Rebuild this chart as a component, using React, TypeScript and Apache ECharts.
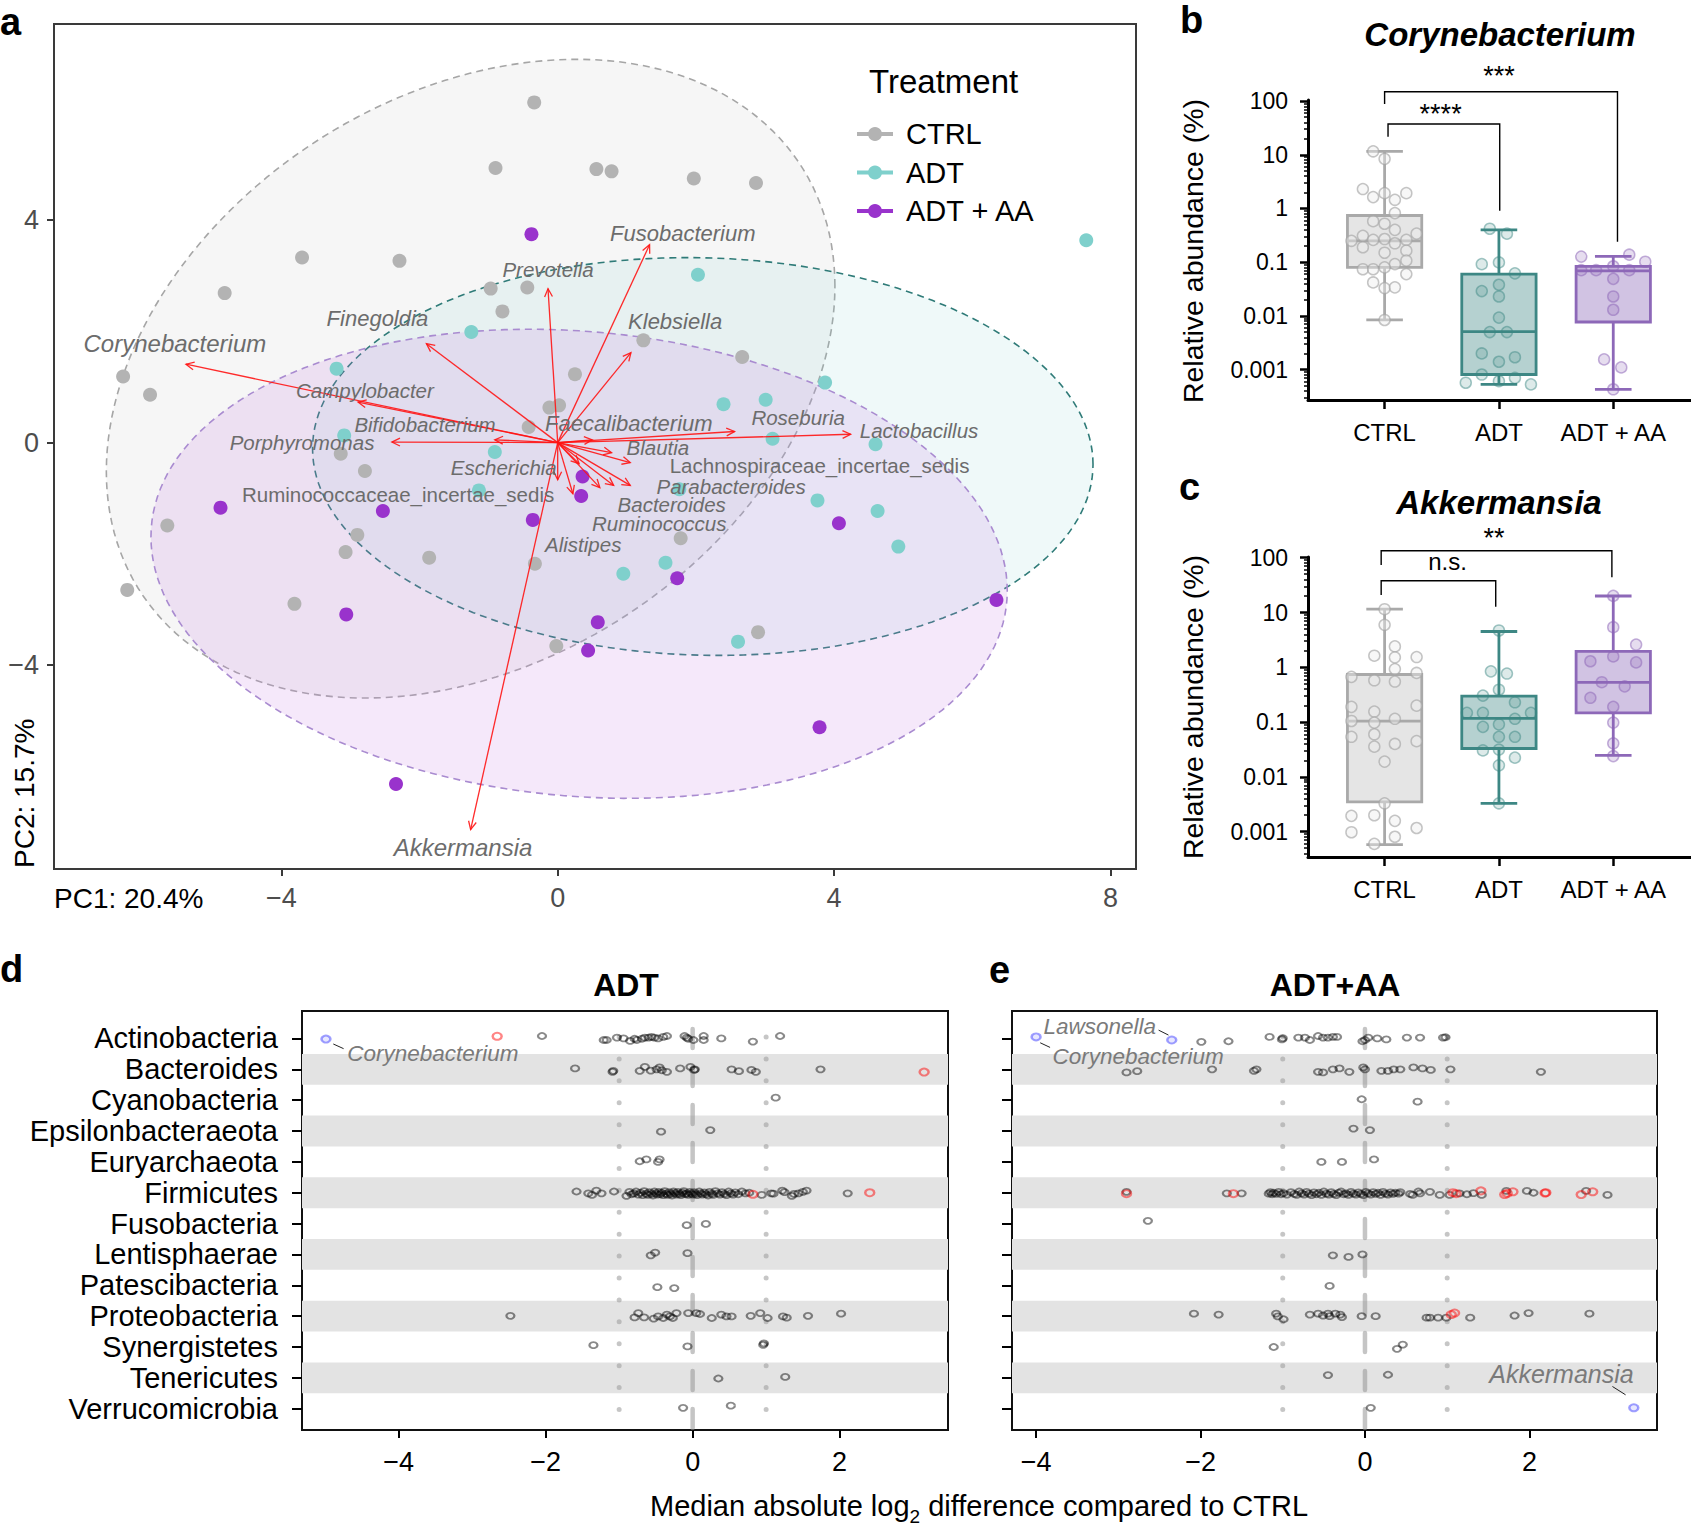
import React, { useEffect, useRef } from "react";
import * as echarts from "echarts";

const FONT = '"Liberation Sans", Arial, Helvetica, sans-serif';
const W = 1691;
const H = 1527;

// ---------------- Panel a : PCA biplot ----------------
const GROUPS = ["CTRL", "ADT", "ADT + AA"];
const GROUP_COLORS = ["#b3b3b3", "#7fd0cc", "#9933cc"];

const PCA_CTRL = [
  [-0.34, 6.12], [-0.9, 4.94], [0.56, 4.92], [0.78, 4.88], [1.97, 4.75], [2.87, 4.67],
  [-3.7, 3.33], [-2.29, 3.27], [-4.82, 2.69], [-0.97, 2.77], [-0.44, 2.79], [-0.8, 2.36],
  [1.24, 1.84], [2.67, 1.54], [0.25, 1.23], [-6.29, 1.19], [-5.9, 0.86], [-0.12, 0.63],
  [0.02, 0.67], [-0.42, 0.28], [-3.14, -0.2], [-2.79, -0.51], [-5.65, -1.49], [-2.9, -1.66],
  [-3.07, -1.97], [-1.86, -2.07], [-0.33, -2.18], [-6.23, -2.65], [-3.81, -2.9], [-0.02, -3.66],
  [2.9, -3.41], [1.78, -1.72],
];
const PCA_ADT = [
  [7.65, 3.64], [2.03, 3.02], [-1.25, 1.99], [-3.2, 1.33], [3.87, 1.08], [3.01, 0.77],
  [2.4, 0.69], [-3.09, 0.13], [-0.91, -0.17], [3.11, 0.07], [4.6, -0.03], [-1.14, -0.86],
  [1.76, -0.84], [3.76, -1.04], [4.63, -1.23], [4.93, -1.87], [1.56, -2.16], [0.95, -2.36],
  [2.61, -3.58],
];
const PCA_AA = [
  [-0.38, 3.75], [0.36, -0.61], [0.34, -0.96], [-4.88, -1.17], [-2.53, -1.23], [-0.36, -1.39],
  [4.07, -1.45], [1.73, -2.44], [-3.06, -3.09], [0.58, -3.23], [0.44, -3.74], [6.35, -2.83],
  [3.79, -5.12], [-2.34, -6.14],
];
const PCA_POINTS = [PCA_CTRL, PCA_ADT, PCA_AA];

// 95% ellipses: centre and covariance (sxx, sxy, syy) in PC units
const ELLIPSE_CENTER = [[-1.26, 1.15], [2.1, -0.25], [0.31, -2.18]];
const ELLIPSE_COV = [[27.8, 8.8, 33.0], [31.9, -0.8, 12.8], [38.4, -3.0, 17.8]];
const ELLIPSE_FILL = ["rgba(190,190,190,0.14)", "rgba(125,207,203,0.12)", "rgba(200,130,230,0.18)"];
const ELLIPSE_STROKE = ["#a6a6a6", "#2f7b78", "#a98bd0"];

const GENERA = [
  "Corynebacterium", "Finegoldia", "Prevotella", "Fusobacterium", "Klebsiella",
  "Campylobacter", "Bifidobacterium", "Porphyromonas", "Faecalibacterium", "Roseburia",
  "Lactobacillus", "Blautia", "Lachnospiraceae_incertae_sedis", "Escherichia", "Alistipes",
  "Bacteroides", "Parabacteroides", "Ruminococcus", "Ruminococcaceae_incertae_sedis", "Akkermansia",
];
const LOAD_X = [-5.38, -1.9, -0.14, 1.33, 1.06, -2.89, -0.91, -2.4, 0.5, 2.56, 4.24, 0.78, 1.05, 0.0, 0.22, 0.61, 1.05, 0.81, 0.31, -1.26];
const LOAD_Y = [1.41, 1.78, 2.77, 3.56, 1.62, 0.73, 0.05, 0.01, 0.05, 0.2, 0.15, -0.18, -0.36, -0.67, -0.92, -0.81, -0.77, -0.77, -0.38, -6.96];
const LABEL_X = [-5.54, -2.61, -0.14, 1.81, 1.7, -2.79, -1.92, -3.7, 1.03, 3.48, 5.23, 1.45, 3.79, -0.78, 0.37, 1.65, 2.51, 1.47, -2.31, -1.37];
const LABEL_Y = [1.78, 2.24, 3.12, 3.76, 2.18, 0.94, 0.32, 0.01, 0.34, 0.46, 0.22, -0.09, -0.42, -0.44, -1.83, -1.12, -0.79, -1.45, -0.94, -7.29];
const BIG_LABELS = ["Corynebacterium", "Akkermansia"];
const MID_LABELS = ["Fusobacterium", "Finegoldia", "Klebsiella", "Faecalibacterium"];

const A_X_TICKS = [-4, 0, 4, 8];
const A_Y_TICKS = [-4, 0, 4];

// ---------------- Panels b, c : box plots (relative abundance, %) ----------------
const Y_TICKS_LOG = [0.001, 0.01, 0.1, 1, 10, 100];
const Y_TICK_LABELS = ["0.001", "0.01", "0.1", "1", "10", "100"];

// [min, q1, median, q3, max]
const CORY_BOX = [
  [0.0084, 0.08, 0.25, 0.74, 11.6],
  [0.00053, 0.00081, 0.0051, 0.06, 0.4],
  [0.00043, 0.0077, 0.069, 0.0836, 0.128],
];
const AKK_BOX = [
  [0.00058, 0.0035, 0.104, 0.74, 11.5],
  [0.0033, 0.033, 0.117, 0.297, 4.5],
  [0.0248, 0.148, 0.53, 1.95, 20],
];
// [jitter (category units), value %]
const CORY_CTRL = [
  [-0.1, 11.6], [0, 8.4], [-0.19, 2.3], [-0.1, 1.63], [0, 1.93], [0.09, 1.45], [0.19, 1.93],
  [0.09, 0.82], [-0.1, 0.58], [0, 0.52], [0.09, 0.4], [0.28, 0.34], [-0.29, 0.25], [-0.19, 0.31],
  [-0.1, 0.26], [0, 0.27], [0.09, 0.225], [0.19, 0.26], [-0.19, 0.19], [0, 0.15], [0.19, 0.164],
  [0.09, 0.092], [0.19, 0.107], [-0.19, 0.074], [-0.1, 0.074], [0, 0.08], [0.19, 0.06],
  [-0.1, 0.042], [0, 0.033], [0.09, 0.034], [0, 0.0084],
];
const CORY_ADT = [
  [-0.08, 0.42], [0.07, 0.34], [-0.15, 0.092], [0, 0.099], [0.14, 0.062], [-0.15, 0.029],
  [0, 0.038], [0, 0.023], [0, 0.0093], [-0.08, 0.005], [0.07, 0.005], [-0.15, 0.002],
  [0.14, 0.0017], [0, 0.0014], [-0.15, 0.00081], [0.14, 0.0007], [-0.29, 0.00057],
  [0, 0.00061], [0.28, 0.00053],
];
const CORY_AA = [
  [-0.28, 0.127], [0.14, 0.138], [0.28, 0.102], [-0.28, 0.071], [-0.15, 0.071], [0, 0.084],
  [0.14, 0.071], [0, 0.049], [0, 0.023], [0, 0.013], [-0.08, 0.00155], [0.07, 0.0011], [0, 0.00043],
];
const AKK_CTRL = [
  [0, 11.5], [0, 5.97], [0.09, 2.41], [-0.09, 1.63], [0.09, 1.52], [0.28, 1.54], [0.09, 0.93],
  [0.28, 0.79], [-0.29, 0.67], [-0.09, 0.58], [0.09, 0.55], [-0.29, 0.19], [-0.09, 0.156],
  [0.28, 0.2], [-0.29, 0.105], [-0.09, 0.098], [0.09, 0.115], [-0.29, 0.054], [-0.09, 0.06],
  [-0.09, 0.0357], [0.09, 0.04], [0.28, 0.045], [0, 0.019], [0, 0.0033], [-0.29, 0.00195],
  [-0.09, 0.002], [0.09, 0.00158], [0.28, 0.00117], [-0.29, 0.00098], [0.09, 0.00081], [-0.09, 0.0006],
];
const AKK_ADT = [
  [0, 4.7], [-0.07, 0.845], [0.07, 0.77], [0, 0.39], [-0.14, 0.305], [0.14, 0.23], [-0.28, 0.148],
  [-0.14, 0.148], [0.14, 0.115], [0.28, 0.148], [-0.14, 0.082], [0, 0.091], [0.14, 0.054],
  [0, 0.054], [-0.14, 0.0305], [0, 0.0316], [0.14, 0.0225], [0, 0.0163], [0, 0.0033],
];
const AKK_AA = [
  [0, 20.1], [0, 5.4], [0.2, 2.6], [0, 1.58], [-0.2, 1.29], [0.2, 1.23], [-0.1, 0.535],
  [0.1, 0.45], [-0.2, 0.278], [0, 0.19], [0, 0.098], [0, 0.041], [0, 0.024],
];
// significance brackets: [x1, x2, yTop, yLeftEnd, yRightEnd] in (category, log10 %)
const CORY_BRACKETS = [[1, 3.037, 2.175, 1.945, -0.619], [1.03, 2.007, 1.573, 1.337, -0.041]];
const CORY_SIG = ["***", "****"];
const CORY_SIG_POS = [[2.0, 2.467], [1.49, 1.759]];
const AKK_BRACKETS = [[0.97, 2.988, 2.128, 1.867, 1.643], [0.97, 1.972, 1.581, 1.32, 1.106]];
const AKK_SIG = ["**", "n.s."];
const AKK_SIG_POS = [[1.957, 2.36], [1.55, 1.922]];

const BOX_STROKE = ["#a9a9a9", "#3d8784", "#8d68b8"];
const BOX_FILL = ["rgba(169,169,169,0.3)", "rgba(61,135,132,0.38)", "rgba(141,104,184,0.4)"];
const PT_FILL = ["rgba(236,236,236,0.55)", "rgba(61,135,132,0.22)", "rgba(141,104,184,0.28)"];
const PT_STROKE = ["rgba(165,165,165,0.8)", "rgba(61,135,132,0.6)", "rgba(141,104,184,0.65)"];

// ---------------- Panels d, e : log2 differences per phylum ----------------
const PHYLA = [
  "Actinobacteria", "Bacteroides", "Cyanobacteria", "Epsilonbacteraeota", "Euryarchaeota",
  "Firmicutes", "Fusobacteria", "Lentisphaerae", "Patescibacteria", "Proteobacteria",
  "Synergistetes", "Tenericutes", "Verrucomicrobia",
];
const X_TICKS_DE = [-4, -2, 0, 2];
const REF_LINES = [-1, 0, 1];

// [log2 difference, vertical jitter (rows)]
const ADT_ROWS = [
  [[-2.05, -0.08], [-1.21, 0.05], [-1.17, 0.05], [-1.03, -0.03], [-0.94, 0.0], [-0.85, 0.08], [-0.79, 0.01], [-0.76, 0.05], [-0.69, 0.01], [-0.65, -0.03], [-0.6, -0.03], [-0.56, -0.05], [-0.52, -0.03], [-0.47, 0.0], [-0.4, -0.05], [-0.35, -0.08], [-0.11, -0.08], [-0.08, -0.03], [-0.06, 0.01], [0.01, 0.05], [0.15, -0.08], [0.15, 0.05], [0.39, 0.0], [0.82, 0.1], [1.19, -0.08]],
  [[-1.6, -0.03], [-1.09, 0.08], [-1.08, 0.05], [-0.72, 0.05], [-0.65, -0.08], [-0.57, 0.04], [-0.49, 0.0], [-0.45, -0.06], [-0.42, 0.03], [-0.35, 0.08], [-0.17, -0.03], [-0.03, -0.08], [0.03, 0.0], [0.02, 0.02], [0.53, 0.0], [0.63, 0.06], [0.8, 0.02], [0.86, 0.08], [1.74, 0.0]],
  [[1.13, -0.08]],
  [[-0.43, 0.02], [0.24, -0.03]],
  [[-0.72, -0.02], [-0.63, -0.08], [-0.47, 0.0], [-0.45, -0.08]],
  [[-1.58, -0.04], [-1.42, 0.02], [-1.37, 0.07], [-1.31, -0.07], [-1.24, 0.02], [-1.07, -0.04], [-0.9, 0.1], [-0.86, -0.03], [-0.83, 0.05], [-0.8, 0.02], [-0.77, -0.04], [-0.74, 0.06], [-0.71, 0.0], [-0.68, 0.08], [-0.66, -0.05], [-0.63, 0.03], [-0.61, 0.07], [-0.59, -0.02], [-0.56, 0.04], [-0.54, 0.09], [-0.52, -0.04], [-0.5, 0.02], [-0.48, 0.06], [-0.46, -0.03], [-0.44, 0.05], [-0.42, 0.0], [-0.4, 0.08], [-0.38, -0.05], [-0.36, 0.03], [-0.34, 0.07], [-0.32, -0.02], [-0.3, 0.04], [-0.28, 0.09], [-0.26, -0.04], [-0.24, 0.01], [-0.22, 0.06], [-0.2, -0.03], [-0.18, 0.04], [-0.16, 0.08], [-0.14, 0.0], [-0.12, -0.05], [-0.1, 0.05], [-0.08, 0.02], [-0.06, 0.07], [-0.04, -0.03], [-0.02, 0.03], [0.0, 0.06], [0.02, -0.02], [0.04, 0.04], [0.06, 0.08], [0.09, -0.04], [0.11, 0.02], [0.13, 0.06], [0.16, -0.01], [0.18, 0.05], [0.21, 0.09], [0.23, -0.03], [0.26, 0.03], [0.28, 0.07], [0.31, -0.05], [0.34, 0.02], [0.37, 0.06], [0.4, -0.02], [0.43, 0.04], [0.46, 0.08], [0.49, -0.04], [0.52, 0.02], [0.55, 0.06], [0.58, -0.01], [0.62, 0.05], [0.67, -0.04], [0.72, 0.02], [0.77, 0.0], [0.94, 0.07], [1.07, 0.02], [1.1, 0.03], [1.22, -0.07], [1.25, -0.02], [1.35, 0.1], [1.38, 0.04], [1.44, 0.02], [1.5, -0.03], [1.55, -0.07], [2.11, 0.02]],
  [[-0.08, 0.05], [0.18, 0.01]],
  [[-0.57, 0.03], [-0.51, -0.06], [-0.07, -0.04]],
  [[-0.48, 0.06], [-0.25, 0.09]],
  [[-2.48, -0.01], [-0.79, 0.04], [-0.74, -0.1], [-0.66, 0.04], [-0.53, 0.08], [-0.47, 0.01], [-0.4, 0.06], [-0.35, -0.05], [-0.31, 0.01], [-0.27, 0.06], [-0.22, -0.1], [-0.06, -0.1], [0.05, -0.1], [0.1, -0.07], [0.26, 0.06], [0.39, -0.05], [0.46, 0.01], [0.53, 0.01], [0.79, -0.01], [0.92, -0.1], [1.02, 0.06], [1.23, 0.01], [1.28, 0.05], [1.57, -0.01], [2.02, -0.08]],
  [[-1.35, -0.06], [-0.07, -0.02], [0.96, -0.07], [0.97, -0.12]],
  [[0.35, 0.02], [1.26, -0.03]],
  [[-0.13, -0.03], [0.52, -0.1]],
];
// [log2 difference, row, jitter]
const ADT_RED = [[-2.66, 0, -0.07], [3.15, 1, 0.09], [0.82, 5, 0.05], [2.41, 5, 0.0]];
const ADT_BLUE = [[-4.99, 0, 0.02]];

const AA_ROWS = [
  [[-1.99, 0.11], [-1.66, 0.09], [-1.16, -0.05], [-1.01, 0.03], [-1.0, -0.01], [-0.81, -0.03], [-0.73, -0.03], [-0.67, 0.05], [-0.57, -0.08], [-0.51, -0.03], [-0.45, -0.03], [-0.39, -0.05], [-0.34, -0.05], [-0.03, 0.09], [0.0, 0.05], [0.04, -0.03], [0.15, 0.0], [0.26, 0.03], [0.51, -0.03], [0.67, -0.03], [0.95, -0.03], [0.98, -0.04]],
  [[-2.9, 0.1], [-2.77, 0.06], [-1.86, 0.0], [-1.35, 0.05], [-1.32, 0.0], [-0.57, 0.08], [-0.51, 0.1], [-0.39, 0.0], [-0.31, -0.03], [-0.19, 0.08], [-0.02, -0.06], [0.0, 0.0], [0.2, 0.05], [0.28, 0.05], [0.35, 0.0], [0.43, 0.0], [0.59, -0.06], [0.7, -0.03], [0.8, 0.02], [1.04, 0.0], [2.14, 0.08]],
  [[-0.04, -0.03], [0.64, 0.05]],
  [[-0.14, -0.08], [0.06, -0.03]],
  [[-0.53, 0.0], [-0.28, 0.0], [0.11, -0.08]],
  [[-2.9, -0.03], [-1.68, 0.02], [-1.5, 0.02], [-1.17, 0.03], [-1.15, -0.02], [-1.13, 0.05], [-1.11, 0.0], [-1.08, 0.04], [-1.05, -0.03], [-1.02, 0.05], [-0.99, 0.01], [-0.95, 0.06], [-0.9, -0.02], [-0.86, 0.04], [-0.83, 0.07], [-0.8, -0.04], [-0.77, 0.02], [-0.74, 0.06], [-0.71, -0.03], [-0.68, 0.03], [-0.65, 0.08], [-0.62, -0.01], [-0.59, 0.05], [-0.56, 0.0], [-0.53, 0.07], [-0.5, -0.04], [-0.47, 0.03], [-0.44, 0.06], [-0.41, -0.02], [-0.38, 0.04], [-0.35, 0.08], [-0.32, 0.0], [-0.29, -0.04], [-0.26, 0.05], [-0.23, 0.02], [-0.2, 0.07], [-0.17, -0.03], [-0.14, 0.03], [-0.11, 0.06], [-0.08, -0.01], [-0.05, 0.04], [-0.02, 0.08], [0.01, -0.03], [0.04, 0.02], [0.07, 0.06], [0.1, -0.02], [0.13, 0.04], [0.16, 0.0], [0.19, 0.07], [0.22, -0.03], [0.25, 0.03], [0.28, 0.06], [0.31, -0.01], [0.34, 0.04], [0.37, 0.0], [0.41, 0.03], [0.43, -0.02], [0.55, 0.04], [0.58, 0.07], [0.65, -0.04], [0.67, 0.02], [0.79, -0.03], [0.91, 0.07], [1.03, 0.07], [1.15, 0.02], [1.24, 0.05], [1.32, 0.01], [1.42, 0.07], [1.72, -0.06], [1.97, -0.06], [2.05, 0.0], [2.69, -0.06], [2.95, 0.07]],
  [[-2.64, -0.09]],
  [[-0.39, 0.03], [-0.2, 0.08], [-0.03, 0.0]],
  [[-0.43, 0.02]],
  [[-2.08, -0.08], [-1.78, -0.05], [-1.08, -0.08], [-1.06, 0.01], [-0.99, 0.1], [-0.67, -0.05], [-0.57, -0.08], [-0.51, -0.02], [-0.45, -0.08], [-0.43, 0.0], [-0.36, -0.08], [-0.3, -0.05], [-0.28, 0.03], [-0.04, 0.0], [0.13, 0.0], [0.75, 0.05], [0.79, 0.05], [0.89, 0.05], [0.99, 0.05], [1.28, 0.05], [1.82, -0.02], [1.99, -0.1], [2.73, -0.08]],
  [[-1.11, 0.0], [0.39, 0.06], [0.46, -0.08]],
  [[-0.45, -0.09], [0.28, -0.1]],
  [[0.07, -0.03]],
];
const AA_RED = [[-2.9, 5, 0.03], [-1.6, 5, 0.03], [1.07, 5, 0.0], [1.11, 5, 0.03], [1.41, 5, -0.06], [1.7, 5, 0.06], [1.73, 5, 0.02], [1.8, 5, -0.03], [2.19, 5, 0.01], [2.2, 5, 0.0], [2.63, 5, 0.06], [2.77, 5, -0.03], [1.05, 9, -0.05], [1.09, 9, -0.1]];
const AA_BLUE = [[-4.0, 0, -0.05], [-2.35, 0, 0.05], [3.27, 12, -0.03]];

// annotated genera in d / e : text, anchor (log2 diff, row), alignment, leader line
const ADT_NOTES = ["Corynebacterium"];
const ADT_NOTE_POS = [[-4.7, 0.48]];
const ADT_NOTE_ALIGN = ["left"];
const ADT_LEADERS = [[-4.89, 0.18, -4.75, 0.33]];
const AA_NOTES = ["Lawsonella", "Corynebacterium", "Akkermansia"];
const AA_NOTE_POS = [[-2.54, -0.4], [-3.8, 0.57], [2.39, 10.88]];
const AA_NOTE_ALIGN = ["right", "left", "center"];
const AA_LEADERS = [[-2.51, -0.27, -2.39, -0.11], [-3.95, 0.14, -3.83, 0.29], [3.01, 11.28, 3.17, 11.55]];

// ----------------------------------------------------------------
const fmtMinus = (v) => (v < 0 ? "\u2212" + Math.abs(v) : String(v));

function txt(x, y, text, o: any = {}) {
  return {
    type: "text",
    x,
    y,
    rotation: o.rotation || 0,
    silent: true,
    z: 100,
    style: {
      text,
      fontSize: o.size || 20,
      fontFamily: FONT,
      fontWeight: o.weight || "normal",
      fontStyle: o.italic ? "italic" : "normal",
      fill: o.color || "#000",
      align: o.align || "left",
      verticalAlign: o.va || "middle",
      textAlign: o.align || "left",
      textVerticalAlign: o.va || "middle",
      rich: o.rich,
    },
  };
}

function buildOption() {
  const grids = [
    { left: 54, top: 24, width: 1082, height: 845, show: true, borderColor: "#3a3a3a", borderWidth: 2, backgroundColor: "transparent" },
    { left: 1308, top: 100, width: 383, height: 300 },
    { left: 1308, top: 557, width: 383, height: 300 },
    { left: 302, top: 1011, width: 646, height: 419, show: true, borderColor: "#111", borderWidth: 2, backgroundColor: "transparent" },
    { left: 1012, top: 1011, width: 645, height: 419, show: true, borderColor: "#111", borderWidth: 2, backgroundColor: "transparent" },
  ];

  const logTickFmt = (v) => {
    const i = Y_TICKS_LOG.findIndex((t) => Math.abs(Math.log10(t) - v) < 1e-6);
    return i >= 0 ? Y_TICK_LABELS[i] : "";
  };
  const majorLog = Y_TICKS_LOG.map((t) => Math.log10(t));
  const minorLog = (lo, hi) => {
    const out = [];
    for (let d = -5; d <= 2; d++) for (let k = 2; k <= 9; k++) {
      const v = d + Math.log10(k);
      if (v > lo && v < hi) out.push(v);
    }
    return out;
  };

  const catAxis = (gi) => ({
    gridIndex: gi, type: "value", min: 0.33, max: 3.68,
    axisLine: { show: true, onZero: false, lineStyle: { color: "#000", width: 3 } },
    axisTick: { show: true, customValues: [1, 2, 3], length: 9, lineStyle: { color: "#000", width: 2.5 } },
    axisLabel: { show: true, customValues: [1, 2, 3], formatter: (v) => GROUPS[Math.round(v) - 1], fontSize: 24, color: "#000", margin: 20, fontFamily: FONT },
    splitLine: { show: false },
  });
  const logAxisMajor = (gi, lo, hi) => ({
    gridIndex: gi, type: "value", min: lo, max: hi, position: "left",
    axisLine: { show: true, onZero: false, lineStyle: { color: "#000", width: 3 } },
    axisTick: { show: true, customValues: majorLog, length: 8, lineStyle: { color: "#000", width: 2.5 } },
    axisLabel: { show: true, customValues: majorLog, formatter: logTickFmt, fontSize: 23, color: "#000", margin: 20, fontFamily: FONT },
    splitLine: { show: false },
  });
  const logAxisMinor = (gi, lo, hi) => ({
    gridIndex: gi, type: "value", min: lo, max: hi, position: "left", offset: 0,
    axisLine: { show: false, onZero: false },
    axisTick: { show: true, customValues: minorLog(lo, hi), length: 4, lineStyle: { color: "#000", width: 1.5 } },
    axisLabel: { show: false },
    splitLine: { show: false },
  });

  const xAxes = [
    {
      gridIndex: 0, type: "value", min: -7.29, max: 8.37,
      axisLine: { show: false, onZero: false },
      axisTick: { show: true, customValues: A_X_TICKS, length: 7, lineStyle: { color: "#3a3a3a", width: 2 } },
      axisLabel: { customValues: A_X_TICKS, formatter: fmtMinus, fontSize: 27, color: "#4d4d4d", margin: 15, fontFamily: FONT },
      splitLine: { show: false },
    },
    catAxis(1),
    catAxis(2),
    {
      gridIndex: 3, type: "value", min: -5.316, max: 3.475,
      axisLine: { show: false, onZero: false },
      axisTick: { show: true, customValues: X_TICKS_DE, length: 8, lineStyle: { color: "#000", width: 2 } },
      axisLabel: { customValues: X_TICKS_DE, formatter: fmtMinus, fontSize: 27, color: "#000", margin: 18, fontFamily: FONT },
      splitLine: { show: false },
    },
    {
      gridIndex: 4, type: "value", min: -4.293, max: 3.552,
      axisLine: { show: false, onZero: false },
      axisTick: { show: true, customValues: X_TICKS_DE, length: 8, lineStyle: { color: "#000", width: 2 } },
      axisLabel: { customValues: X_TICKS_DE, formatter: fmtMinus, fontSize: 27, color: "#000", margin: 18, fontFamily: FONT },
      splitLine: { show: false },
    },
  ];

  const rowIdx = PHYLA.map((_, i) => i);
  const yAxes = [
    {
      gridIndex: 0, type: "value", min: -7.67, max: 7.53,
      axisLine: { show: false, onZero: false },
      axisTick: { show: true, customValues: A_Y_TICKS, length: 7, lineStyle: { color: "#3a3a3a", width: 2 } },
      axisLabel: { customValues: A_Y_TICKS, formatter: fmtMinus, fontSize: 27, color: "#4d4d4d", margin: 15, fontFamily: FONT },
      splitLine: { show: false },
    },
    logAxisMajor(1, -3.566, 2.02),
    logAxisMinor(1, -3.566, 2.02),
    logAxisMajor(2, -3.461, 2.013),
    logAxisMinor(2, -3.461, 2.013),
    {
      gridIndex: 3, type: "value", min: -0.89, max: 12.69, inverse: true,
      axisLine: { show: false, onZero: false },
      axisTick: { show: true, customValues: rowIdx, length: 10, lineStyle: { color: "#000", width: 2 } },
      axisLabel: { customValues: rowIdx, formatter: (v) => PHYLA[Math.round(v)], fontSize: 29, color: "#000", margin: 24, fontFamily: FONT },
      splitLine: { show: false },
    },
    {
      gridIndex: 4, type: "value", min: -0.89, max: 12.69, inverse: true,
      axisLine: { show: false, onZero: false },
      axisTick: { show: true, customValues: rowIdx, length: 10, lineStyle: { color: "#000", width: 2 } },
      axisLabel: { show: false },
      splitLine: { show: false },
    },
  ];

  const series: any[] = [];

  // ---- panel a ----
  series.push({
    type: "custom", xAxisIndex: 0, yAxisIndex: 0, z: 1, silent: true,
    data: ELLIPSE_CENTER.map((c) => [c[0], c[1]]),
    renderItem: (params, api) => {
      const i = params.dataIndex;
      const cx = api.value(0);
      const cy = api.value(1);
      const [sxx, sxy, syy] = ELLIPSE_COV[i];
      const l11 = Math.sqrt(sxx);
      const l21 = sxy / l11;
      const l22 = Math.sqrt(syy - l21 * l21);
      const pts = [];
      for (let k = 0; k < 180; k++) {
        const t = (2 * Math.PI * k) / 180;
        pts.push(api.coord([cx + l11 * Math.cos(t), cy + l21 * Math.cos(t) + l22 * Math.sin(t)]));
      }
      return { type: "polygon", shape: { points: pts }, style: { fill: ELLIPSE_FILL[i], stroke: ELLIPSE_STROKE[i], lineWidth: 1.6, lineDash: [7, 5] } };
    },
  });
  PCA_POINTS.forEach((pts, g) => {
    series.push({
      type: "scatter", name: GROUPS[g], xAxisIndex: 0, yAxisIndex: 0, z: 2, silent: true,
      data: pts, symbol: "circle", symbolSize: 14,
      itemStyle: { color: GROUP_COLORS[g], opacity: 1 },
    });
  });
  const ARROW = "rgba(255,20,20,0.9)";
  series.push({
    type: "custom", xAxisIndex: 0, yAxisIndex: 0, z: 4, silent: true,
    data: LOAD_X.map((x, i) => [x, LOAD_Y[i]]),
    renderItem: (params, api) => {
      const p0 = api.coord([0, 0]);
      const p1 = api.coord([api.value(0), api.value(1)]);
      const ang = Math.atan2(p1[1] - p0[1], p1[0] - p0[0]);
      const L = 9;
      const A = 0.45;
      const h1 = [p1[0] - L * Math.cos(ang - A), p1[1] - L * Math.sin(ang - A)];
      const h2 = [p1[0] - L * Math.cos(ang + A), p1[1] - L * Math.sin(ang + A)];
      return {
        type: "group",
        children: [
          { type: "line", shape: { x1: p0[0], y1: p0[1], x2: p1[0], y2: p1[1] }, style: { stroke: ARROW, lineWidth: 1.3 } },
          { type: "polyline", shape: { points: [h1, p1, h2] }, style: { stroke: ARROW, lineWidth: 1.3, fill: "none" } },
        ],
      };
    },
  });
  series.push({
    type: "custom", xAxisIndex: 0, yAxisIndex: 0, z: 5, silent: true,
    data: LABEL_X.map((x, i) => [x, LABEL_Y[i]]),
    renderItem: (params, api) => {
      const name = GENERA[params.dataIndex];
      const p = api.coord([api.value(0), api.value(1)]);
      const size = BIG_LABELS.includes(name) ? 24 : MID_LABELS.includes(name) ? 22 : 20.5;
      return {
        type: "text", x: p[0], y: p[1],
        style: {
          text: name, fontSize: size, fontFamily: FONT,
          fontStyle: name.includes("incertae") ? "normal" : "italic",
          fill: "#6c6c6c", align: "center", verticalAlign: "middle",
        },
      };
    },
  });

  // ---- panels b, c ----
  const BOX_HALF = 0.325;
  const CAP_HALF = 0.16;
  const boxPanel = (xi, yi, boxes, groups, brackets, sig, sigPos) => {
    series.push({
      type: "custom", xAxisIndex: xi, yAxisIndex: yi, z: 2, silent: true,
      data: boxes.map((b, i) => [i + 1, ...b.map((v) => Math.log10(v))]),
      encode: { x: 0, y: [1, 2, 3, 4, 5] },
      renderItem: (params, api) => {
        const i = params.dataIndex;
        const c = api.value(0);
        const mn = api.value(1), q1 = api.value(2), md = api.value(3), q3 = api.value(4), mx = api.value(5);
        const tl = api.coord([c - BOX_HALF, q3]);
        const br = api.coord([c + BOX_HALF, q1]);
        const mL = api.coord([c - BOX_HALF, md]);
        const mR = api.coord([c + BOX_HALF, md]);
        const top = api.coord([c, mx]);
        const bot = api.coord([c, mn]);
        const capL = api.coord([c - CAP_HALF, mx]);
        const capR = api.coord([c + CAP_HALF, mx]);
        const capL2 = api.coord([c - CAP_HALF, mn]);
        const capR2 = api.coord([c + CAP_HALF, mn]);
        const st = { stroke: BOX_STROKE[i], lineWidth: 2.8 };
        return {
          type: "group",
          children: [
            { type: "line", shape: { x1: top[0], y1: top[1], x2: top[0], y2: tl[1] }, style: st },
            { type: "line", shape: { x1: bot[0], y1: br[1], x2: bot[0], y2: bot[1] }, style: st },
            { type: "line", shape: { x1: capL[0], y1: capL[1], x2: capR[0], y2: capR[1] }, style: st },
            { type: "line", shape: { x1: capL2[0], y1: capL2[1], x2: capR2[0], y2: capR2[1] }, style: st },
            { type: "rect", shape: { x: tl[0], y: tl[1], width: br[0] - tl[0], height: br[1] - tl[1] }, style: { fill: BOX_FILL[i], stroke: BOX_STROKE[i], lineWidth: 2.8 } },
            { type: "line", shape: { x1: mL[0], y1: mL[1], x2: mR[0], y2: mR[1] }, style: st },
          ],
        };
      },
    });
    groups.forEach((pts, g) => {
      series.push({
        type: "scatter", xAxisIndex: xi, yAxisIndex: yi, z: 3, silent: true,
        data: pts.map((p) => [g + 1 + p[0], Math.log10(p[1])]),
        symbol: "circle", symbolSize: 11,
        itemStyle: { color: PT_FILL[g], borderColor: PT_STROKE[g], borderWidth: 1.5 },
      });
    });
    series.push({
      type: "custom", xAxisIndex: xi, yAxisIndex: yi, z: 4, silent: true, clip: false,
      data: brackets,
      encode: { x: [0, 1], y: [2, 3, 4] },
      renderItem: (params, api) => {
        const x1 = api.value(0), x2 = api.value(1), yt = api.value(2), yl = api.value(3), yr = api.value(4);
        const pts = [api.coord([x1, yl]), api.coord([x1, yt]), api.coord([x2, yt]), api.coord([x2, yr])];
        return { type: "polyline", shape: { points: pts }, style: { stroke: "#000", lineWidth: 1.4, fill: "none" } };
      },
    });
    series.push({
      type: "custom", xAxisIndex: xi, yAxisIndex: yi, z: 4, silent: true, clip: false,
      data: sigPos,
      renderItem: (params, api) => {
        const p = api.coord([api.value(0), api.value(1)]);
        const s = sig[params.dataIndex];
        return { type: "text", x: p[0], y: p[1], style: { text: s, fontSize: s.includes("*") ? 27 : 24, fontFamily: FONT, fill: "#000", align: "center", verticalAlign: "middle" } };
      },
    });
  };
  boxPanel(1, 1, CORY_BOX, [CORY_CTRL, CORY_ADT, CORY_AA], CORY_BRACKETS, CORY_SIG, CORY_SIG_POS);
  boxPanel(2, 3, AKK_BOX, [AKK_CTRL, AKK_ADT, AKK_AA], AKK_BRACKETS, AKK_SIG, AKK_SIG_POS);

  // ---- panels d, e ----
  const stripPanel = (xi, yi, rows, reds, blues, notes, notePos, noteAlign, leaders) => {
    series.push({
      type: "custom", xAxisIndex: xi, yAxisIndex: yi, z: 1, silent: true,
      data: PHYLA.map((_, i) => [0, i]).filter((d) => d[1] % 2 === 1),
      renderItem: (params, api) => {
        const cs = params.coordSys;
        const r = api.value(1);
        const a = api.coord([0, r - 0.5])[1];
        const b = api.coord([0, r + 0.5])[1];
        return { type: "rect", shape: { x: cs.x, y: Math.min(a, b), width: cs.width, height: Math.abs(b - a) }, style: { fill: "#e3e3e3" } };
      },
    });
    series.push({
      type: "custom", xAxisIndex: xi, yAxisIndex: yi, z: 2, silent: true,
      data: REF_LINES.map((x) => [x, 0]),
      renderItem: (params, api) => {
        const cs = params.coordSys;
        const x = api.value(0);
        const px = api.coord([x, 0])[0];
        const zero = x === 0;
        return {
          type: "line",
          shape: { x1: px, y1: cs.y + (zero ? 18 : 26), x2: px, y2: cs.y + cs.height },
          style: zero
            ? { stroke: "rgba(150,150,150,0.55)", lineWidth: 4.5, lineDash: [19, 19], lineCap: "round" }
            : { stroke: "rgba(160,160,160,0.6)", lineWidth: 5, lineDash: [0.01, 21.9], lineCap: "round" },
        };
      },
    });
    const black = [];
    rows.forEach((row, r) => row.forEach((p) => black.push([p[0], r + p[1]])));
    series.push({
      type: "scatter", xAxisIndex: xi, yAxisIndex: yi, z: 3, silent: true,
      data: black, symbol: "circle", symbolSize: [8, 6],
      itemStyle: { color: "rgba(0,0,0,0)", borderColor: "rgba(0,0,0,0.58)", borderWidth: 2 },
    });
    series.push({
      type: "scatter", xAxisIndex: xi, yAxisIndex: yi, z: 4, silent: true,
      data: reds.map((p) => [p[0], p[1] + p[2]]), symbol: "circle", symbolSize: [9, 7],
      itemStyle: { color: "rgba(255,0,0,0)", borderColor: "rgba(255,0,0,0.6)", borderWidth: 2.2 },
    });
    series.push({
      type: "scatter", xAxisIndex: xi, yAxisIndex: yi, z: 4, silent: true,
      data: blues.map((p) => [p[0], p[1] + p[2]]), symbol: "circle", symbolSize: [9, 7],
      itemStyle: { color: "rgba(0,0,255,0.12)", borderColor: "rgba(40,40,255,0.55)", borderWidth: 2.2 },
    });
    series.push({
      type: "custom", xAxisIndex: xi, yAxisIndex: yi, z: 5, silent: true,
      data: leaders,
      encode: { x: [0, 2], y: [1, 3] },
      renderItem: (params, api) => {
        const a = api.coord([api.value(0), api.value(1)]);
        const b = api.coord([api.value(2), api.value(3)]);
        return { type: "line", shape: { x1: a[0], y1: a[1], x2: b[0], y2: b[1] }, style: { stroke: "#222", lineWidth: 1 } };
      },
    });
    series.push({
      type: "custom", xAxisIndex: xi, yAxisIndex: yi, z: 5, silent: true,
      data: notePos,
      renderItem: (params, api) => {
        const i = params.dataIndex;
        const p = api.coord([api.value(0), api.value(1)]);
        const t = notes[i];
        return { type: "text", x: p[0], y: p[1], style: { text: t, fontSize: t === "Akkermansia" ? 25 : 22.5, fontStyle: "italic", fontFamily: FONT, fill: "#7a7a7a", align: noteAlign[i], verticalAlign: "middle" } };
      },
    });
  };
  stripPanel(3, 5, ADT_ROWS, ADT_RED, ADT_BLUE, ADT_NOTES, ADT_NOTE_POS, ADT_NOTE_ALIGN, ADT_LEADERS);
  stripPanel(4, 6, AA_ROWS, AA_RED, AA_BLUE, AA_NOTES, AA_NOTE_POS, AA_NOTE_ALIGN, AA_LEADERS);

  // ---- texts, legend ----
  const graphic: any[] = [
    txt(0, 22, "a", { size: 38, weight: "bold" }),
    txt(1180, 20, "b", { size: 38, weight: "bold" }),
    txt(1179, 487, "c", { size: 38, weight: "bold" }),
    txt(0, 969, "d", { size: 38, weight: "bold" }),
    txt(989, 970, "e", { size: 38, weight: "bold" }),
    txt(1500, 34, "Corynebacterium", { size: 33, weight: "bold", italic: true, align: "center" }),
    txt(1499, 502, "Akkermansia", { size: 33, weight: "bold", italic: true, align: "center" }),
    txt(1193, 251, "Relative abundance (%)", { size: 28.5, align: "center", rotation: Math.PI / 2 }),
    txt(1193, 707, "Relative abundance (%)", { size: 28.5, align: "center", rotation: Math.PI / 2 }),
    txt(54, 898, "PC1: 20.4%", { size: 28 }),
    txt(24, 868, "PC2: 15.7%", { size: 28, rotation: Math.PI / 2 }),
    txt(869, 81, "Treatment", { size: 33 }),
    txt(626, 985, "ADT", { size: 32, weight: "bold", align: "center" }),
    txt(1335, 985, "ADT+AA", { size: 32, weight: "bold", align: "center" }),
    txt(979, 1506, "{n|Median absolute log}{s|2}{n| difference compared to CTRL}", {
      align: "center",
      rich: {
        n: { fontSize: 29, fontFamily: FONT, fill: "#000", lineHeight: 40 },
        s: { fontSize: 19, fontFamily: FONT, fill: "#000", lineHeight: 21, verticalAlign: "bottom" },
      },
    }),
  ];
  const LEG_Y = [134, 172.5, 211];
  GROUPS.forEach((g, i) => {
    graphic.push({ type: "line", silent: true, z: 100, shape: { x1: 857, y1: LEG_Y[i], x2: 893, y2: LEG_Y[i] }, style: { stroke: GROUP_COLORS[i], lineWidth: 4 } });
    graphic.push({ type: "circle", silent: true, z: 101, shape: { cx: 875, cy: LEG_Y[i], r: 7 }, style: { fill: GROUP_COLORS[i] } });
    graphic.push(txt(906, LEG_Y[i], g, { size: 29 }));
  });

  return {
    animation: false,
    backgroundColor: "#ffffff",
    textStyle: { fontFamily: FONT },
    grid: grids,
    xAxis: xAxes,
    yAxis: yAxes,
    series,
    graphic: { elements: graphic },
  };
}

export default function App() {
  const ref = useRef<HTMLDivElement>(null);
  useEffect(() => {
    const chart = echarts.init(ref.current, null, { renderer: "svg" });
    chart.setOption(buildOption() as any);
    return () => chart.dispose();
  }, []);
  return (
    <div
      ref={ref}
      style={{ position: "absolute", left: 0, top: 0, width: W, height: H, background: "#fff" }}
    />
  );
}
